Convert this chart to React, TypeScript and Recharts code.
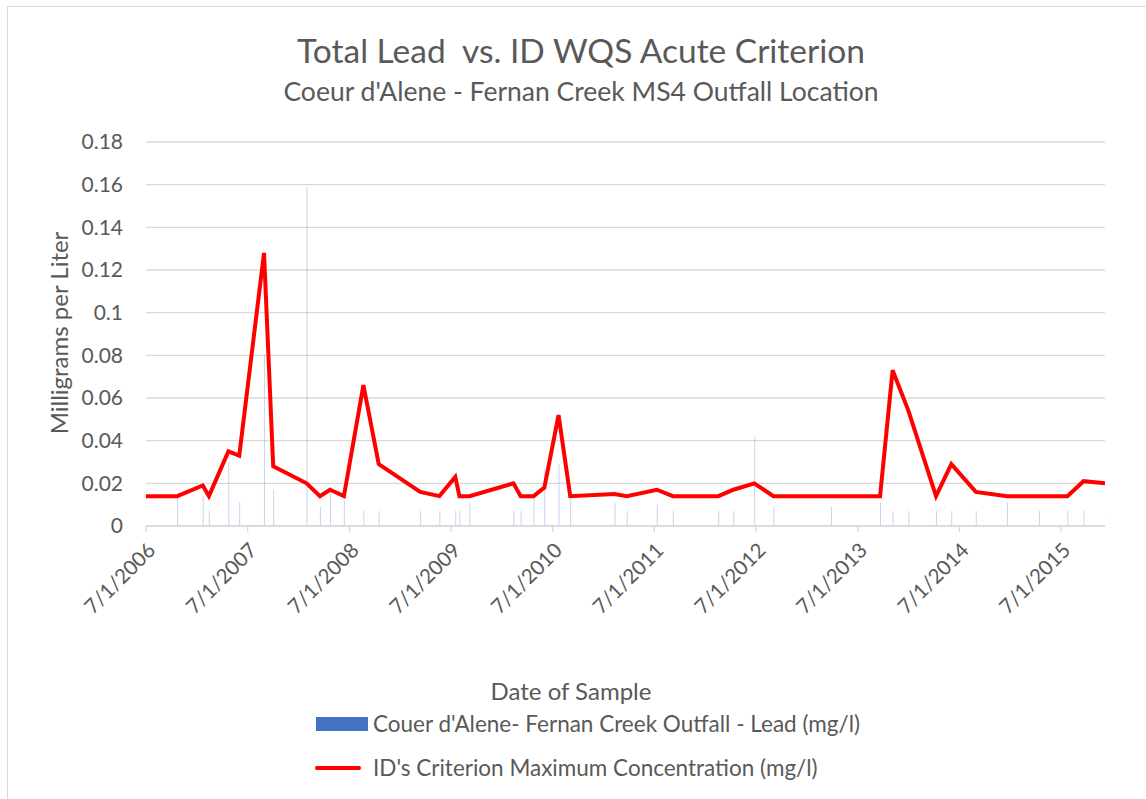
import { ComposedChart, Bar, Line, XAxis, YAxis, CartesianGrid } from "recharts";

// sample dates
const sampleDates = [
  "7/1/2006", "10/21/2006", "1/21/2007", "2/12/2007", "4/23/2007", "6/1/2007",
  "8/29/2007", "10/1/2007", "1/29/2008", "3/17/2008", "4/22/2008", "6/11/2008",
  "8/20/2008", "10/14/2008", "3/12/2009", "5/20/2009", "7/16/2009", "7/31/2009",
  "9/5/2009", "2/10/2010", "3/8/2010", "4/23/2010", "6/1/2010", "7/22/2010",
  "9/2/2010", "2/8/2011", "3/24/2011", "7/10/2011", "9/6/2011", "2/16/2012",
  "4/10/2012", "6/24/2012", "9/1/2012", "3/27/2013", "9/19/2013", "11/3/2013",
  "12/30/2013", "4/8/2014", "6/2/2014", "8/29/2014", "12/19/2014", "4/13/2015",
  "7/24/2015", "9/20/2015", "12/6/2015",
];

// Couer d'Alene - Fernan Creek Outfall - Lead (mg/l)
const leadMgL: (number | null)[] = [
  null, 0.013, 0.014, 0.007, 0.03, 0.011,
  0.08, 0.017, 0.159, 0.009, 0.018, 0.012,
  0.007, 0.007, 0.007, 0.007, 0.007, 0.007,
  0.011, 0.007, 0.007, 0.014, 0.027, 0.029,
  0.014, 0.011, 0.007, 0.01, 0.007, 0.007,
  0.007, 0.042, 0.009, 0.009, 0.011, 0.007,
  0.007, 0.007, 0.007, 0.007, 0.011, 0.007,
  0.007, 0.007, 0.007,
];

// ID's Criterion Maximum Concentration (mg/l)
const criterionMgL = [
  0.014, 0.014, 0.019, 0.014, 0.035, 0.033,
  0.128, 0.028, 0.02, 0.014, 0.017, 0.014,
  0.066, 0.029, 0.016, 0.014, 0.023, 0.014,
  0.014, 0.02, 0.014, 0.014, 0.018, 0.052,
  0.014, 0.015, 0.014, 0.017, 0.014, 0.014,
  0.017, 0.02, 0.014, 0.014, 0.014, 0.073,
  0.054, 0.014, 0.029, 0.016, 0.014, 0.014,
  0.014, 0.021, 0.02,
];

const yTicks = [0, 0.02, 0.04, 0.06, 0.08, 0.1, 0.12, 0.14, 0.16, 0.18];
const xTickLabels = [
  "7/1/2006", "7/1/2007", "7/1/2008", "7/1/2009", "7/1/2010",
  "7/1/2011", "7/1/2012", "7/1/2013", "7/1/2014", "7/1/2015",
];

const toTime = (s: string) => {
  const [m, d, y] = s.split("/").map(Number);
  return Date.UTC(y, m - 1, d);
};

const data = sampleDates.map((d, i) => ({
  t: toTime(d),
  lead: leadMgL[i],
  crit: criterionMgL[i],
}));

const tickByTime: Record<number, string> = {};
xTickLabels.forEach((l) => (tickByTime[toTime(l)] = l));

const font = "Lato, 'Open Sans', sans-serif";
const grey = "#595959";

const DateTick = (props: any) => {
  const { x, y, payload } = props;
  return (
    <text
      x={x + 5}
      y={y + 12}
      transform={`rotate(-45 ${x + 5} ${y + 12})`}
      textAnchor="end"
      dominantBaseline="central"
      fill={grey}
      fontSize={20.5}
      fontFamily={font}
    >
      {tickByTime[payload.value]}
    </text>
  );
};

export default function App() {
  return (
    <div style={{ position: "absolute", left: 0, top: 0, width: 1146, height: 799, background: "#fff", fontFamily: font, overflow: "hidden" }}>
      <div style={{ position: "absolute", left: 7, top: 6, width: 1160, height: 820, border: "1px solid #d9d9d9" }} />
      <div style={{ position: "absolute", left: 0, width: 1162, top: 30, textAlign: "center", fontSize: 33.5, color: grey, whiteSpace: "pre" }}>
        {"Total Lead  vs. ID WQS Acute Criterion"}
      </div>
      <div style={{ position: "absolute", left: 0, width: 1162, top: 75, textAlign: "center", fontSize: 26.5, color: grey }}>
        Coeur d'Alene - Fernan Creek MS4 Outfall Location
      </div>
      <div
        style={{
          position: "absolute", left: 58, top: 333, transform: "translate(-50%, -50%) rotate(-90deg)",
          fontSize: 24, color: grey, whiteSpace: "nowrap",
        }}
      >
        Milligrams per Liter
      </div>
      <div style={{ position: "absolute", left: 0, width: 1142, top: 676, textAlign: "center", fontSize: 24, color: grey }}>
        Date of Sample
      </div>
      <div style={{ position: "absolute", left: 316, top: 710, display: "flex", alignItems: "center", fontSize: 22.5, color: grey }}>
        <span style={{ display: "inline-block", width: 52, height: 14, background: "#4472C4", marginRight: 5 }} />
        Couer d'Alene- Fernan Creek Outfall - Lead (mg/l)
      </div>
      <div style={{ position: "absolute", left: 315, top: 754, display: "flex", alignItems: "center", fontSize: 22.5, color: grey }}>
        <span style={{ display: "inline-block", width: 46, height: 4, background: "#ff0000", borderRadius: 2, marginRight: 12 }} />
        ID's Criterion Maximum Concentration (mg/l)
      </div>
      <div style={{ position: "absolute", left: 0, top: 0 }}>
        <ComposedChart width={1146} height={799} data={data} margin={{ top: 142, right: 41, bottom: 173, left: 86 }}>
          <CartesianGrid vertical={false} stroke="#d9d9d9" strokeWidth={1.3} />
          <XAxis
            type="number"
            dataKey="t"
            domain={[toTime(sampleDates[0]), toTime(sampleDates[sampleDates.length - 1])]}
            ticks={xTickLabels.map(toTime)}
            interval={0}
            allowDataOverflow
            height={100}
            stroke="#d9d9d9"
            strokeWidth={1.3}
            tickSize={6}
            tick={<DateTick />}
          />
          <YAxis
            domain={[0, 0.18]}
            ticks={yTicks}
            interval={0}
            width={60}
            axisLine={false}
            tickLine={false}
            tickSize={0}
            tickMargin={23}
            tickFormatter={(v: number) => String(v)}
            tick={{ fill: grey, fontSize: 21, fontFamily: font }}
          />
          <Bar dataKey="lead" barSize={1} fill="#4472C4" fillOpacity={0.3} isAnimationActive={false} />
          <Line
            type="linear"
            dataKey="crit"
            stroke="#ff0000"
            strokeWidth={4}
            dot={false}
            activeDot={false}
            isAnimationActive={false}
          />
        </ComposedChart>
      </div>
    </div>
  );
}
